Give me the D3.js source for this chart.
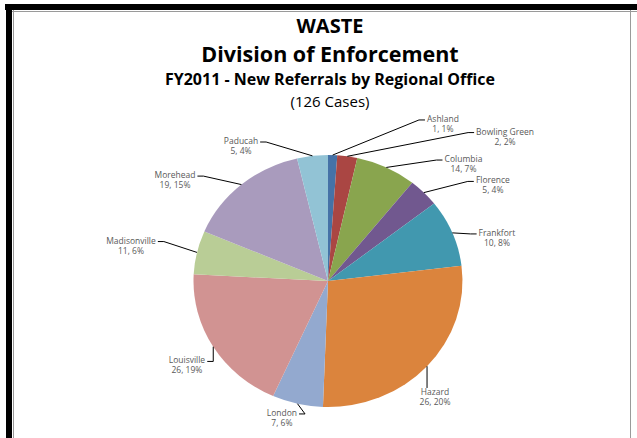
<!DOCTYPE html>
<html>
<head>
<meta charset="utf-8">
<title>WASTE - Division of Enforcement</title>
<script src="https://cdn.jsdelivr.net/npm/d3@7"></script>
<style>
  body { margin: 0; background: #fff; }
  svg { display: block; }
</style>
</head>
<body>
<div id="chart"></div>
<script>
  // regional offices, clockwise from 12 o'clock
  var offices = ["Ashland", "Bowling Green", "Columbia", "Florence", "Frankfort", "Hazard",
                 "London", "Louisville", "Madisonville", "Morehead", "Paducah"];
  // slice shares (%) as drawn in the picture
  var shares = [1.1, 2.4, 7.3, 3.7, 8.6, 27.6, 6.1, 19.2, 5.6, 14.9, 3.7];
  // data label texts as printed on the chart
  var counts = [1, 2, 14, 5, 10, 26, 7, 26, 11, 19, 5];
  var pcts = ["1%", "2%", "7%", "4%", "8%", "20%", "6%", "19%", "6%", "15%", "4%"];
  var colors = ["#4572A7", "#AA4643", "#89A54E", "#71588F", "#4198AF", "#DB843D",
                "#93A9CF", "#D19392", "#B9CD96", "#A99BBD", "#92C3D5"];
  var titles = ["WASTE", "Division of Enforcement", "FY2011 - New Referrals by Regional Office", "(126 Cases)"];

  // where Excel put each data label: [angle in degrees, distance from centre]
  var labelSpots = [[36.2, 194.6], [50.8, 228.5], [49.2, 179], [59.9, 190.6], [75.7, 174.4], [137.3, 157.8],
                    [198.6, 144.5], [239.1, 164.4], [280.2, 200.2], [303.4, 183.3], [327.2, 160.6]];

  var width = 637, height = 438;
  var cx = 328, cy = 281, radius = 134.5, squash = 126 / 134.5;

  var svg = d3.select("#chart").append("svg")
    .attr("width", width)
    .attr("height", height);

  // frame of the screenshot
  svg.append("rect").attr("x", 5).attr("y", 4).attr("width", width - 5).attr("height", 6).attr("fill", "#000");
  svg.append("rect").attr("x", 6).attr("y", 4).attr("width", 6).attr("height", height - 4).attr("fill", "#000");
  svg.append("line").attr("x1", 13.5).attr("x2", 13.5).attr("y1", 10).attr("y2", height)
    .attr("stroke", "#9a9a9a").attr("stroke-width", 1);
  svg.append("line").attr("x1", 12).attr("x2", width).attr("y1", 11.5).attr("y2", 11.5)
    .attr("stroke", "#9a9a9a").attr("stroke-width", 1);
  svg.append("line").attr("x1", 630.5).attr("x2", 630.5).attr("y1", 10).attr("y2", height)
    .attr("stroke", "#9a9a9a").attr("stroke-width", 1);

  // titles
  var titleStyle = [
    { y: 33, size: 20, weight: "bold" },
    { y: 62, size: 21.5, weight: "bold" },
    { y: 85, size: 16, weight: "bold" },
    { y: 107, size: 15, weight: "normal" }
  ];
  svg.selectAll("text.title").data(titles).enter().append("text")
    .attr("class", "title")
    .attr("x", 330)
    .attr("y", function(d, i) { return titleStyle[i].y; })
    .attr("text-anchor", "middle")
    .style("font-family", "'Open Sans', sans-serif")
    .style("font-size", function(d, i) { return titleStyle[i].size + "px"; })
    .style("font-weight", function(d, i) { return titleStyle[i].weight; })
    .style("fill", "#000")
    .text(function(d) { return d; });

  // pie
  var pie = d3.pie().sort(null).value(function(d) { return d; });
  var arcs = pie(shares);
  var arc = d3.arc().innerRadius(0).outerRadius(radius);

  var pieG = svg.append("g")
    .attr("transform", "translate(" + cx + "," + cy + ") scale(1," + squash + ")");
  pieG.selectAll("path").data(arcs).enter().append("path")
    .attr("d", arc)
    .attr("fill", function(d, i) { return colors[i]; });

  // point on the (squashed) pie rim at a given angle
  function rim(a) {
    return [cx + radius * Math.sin(a), cy - radius * squash * Math.cos(a)];
  }

  // data labels with leader lines
  var labelG = svg.append("g");
  arcs.forEach(function(d, i) {
    var spot = labelSpots[i];
    var a = spot[0] * Math.PI / 180;
    var lx = cx + spot[1] * Math.sin(a);
    var ly = cy - spot[1] * Math.cos(a);

    var t = labelG.append("text")
      .attr("x", lx)
      .attr("y", ly - 2)
      .attr("text-anchor", "middle")
      .style("font-family", "'Open Sans', sans-serif")
      .style("font-size", "8.5px")
      .style("fill", "#595959");
    t.append("tspan").attr("x", lx).attr("dy", 0).text(offices[i]);
    t.append("tspan").attr("x", lx).attr("dy", 10).text(counts[i] + ", " + pcts[i]);

    var w = t.node().getBBox().width;
    var start = rim((d.startAngle + d.endAngle) / 2);
    var pts;
    if (ly > cy && Math.abs(start[0] - lx) < w / 2) {
      // label sits straight under the slice
      pts = [start, [start[0], ly - 9]];
    } else if (lx > start[0]) {
      var ex = lx - w / 2 - 2;
      pts = [start, [ex - 6, ly - 4], [ex, ly - 4]];
    } else {
      var ex2 = lx + w / 2 + 2;
      pts = [start, [ex2 + 6, ly - 4], [ex2, ly - 4]];
    }
    var last = pts[pts.length - 1];
    if (Math.hypot(last[0] - start[0], last[1] - start[1]) < 10) return;
    labelG.append("path")
      .attr("d", d3.line()(pts))
      .attr("fill", "none")
      .attr("stroke", "#000")
      .attr("stroke-width", 1);
  });
</script>
</body>
</html>
